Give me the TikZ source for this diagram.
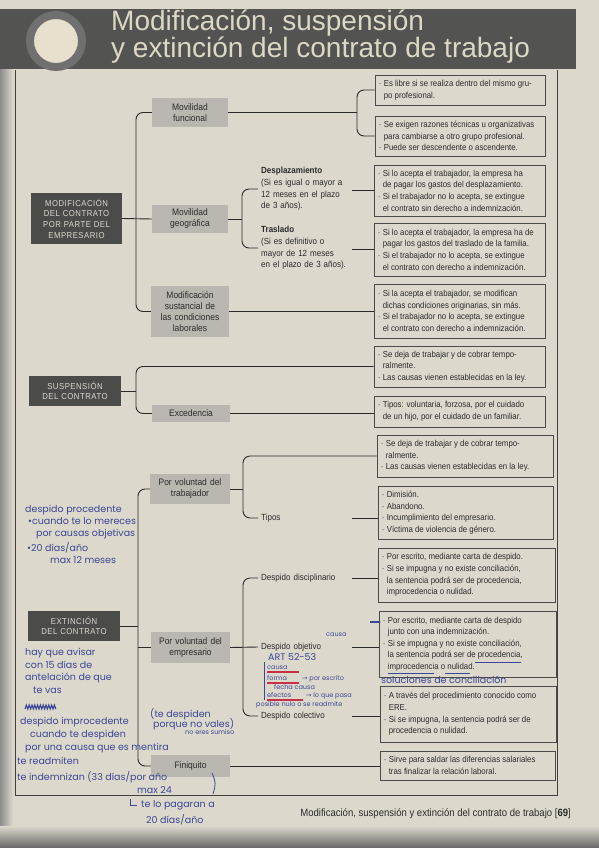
\documentclass[tikz,border=0pt]{standalone}
\usepackage{fontspec}
\setmainfont{Liberation Sans}[FakeStretch=0.9]
\newfontfamily\titlefont{Liberation Sans}
\newfontfamily\hand{Poppins}
\newfontfamily\sym{DejaVu Sans}
\usetikzlibrary{arrows.meta}
\definecolor{paper}{HTML}{DCD8CC}
\definecolor{band}{HTML}{535351}
\definecolor{ringcol}{HTML}{707070}
\definecolor{circfill}{HTML}{E6E0CC}
\definecolor{titlecol}{HTML}{DDD7C5}
\definecolor{ink}{HTML}{2B2B2B}
\definecolor{graybox}{HTML}{BAB7B0}
\definecolor{darkbox}{HTML}{4B4B49}
\definecolor{darktext}{HTML}{DCD8CE}
\definecolor{handblue}{HTML}{3A4796}
\definecolor{redmark}{HTML}{C83048}
\newcommand\bul{\makebox[5pt][l]{·}}
\newcommand\ind{\hspace*{5pt}}
\newcommand\harr{{\sym →}}
\newcommand\mkbox[7]{%
  \pgfmathsetmacro\bxw{#5-#3}\pgfmathsetmacro\bxh{#6-#4}%
  \pgfmathsetmacro\bxtw{#5-#3-8}%
  \pgfmathsetmacro\bxcx{(#3+#5)/2}\pgfmathsetmacro\bxcy{-(#4+#6)/2}%
  \node[#2, minimum width=\bxw pt, minimum height=\bxh pt, text width=\bxtw pt] (#1) at (\bxcx,\bxcy) {#7};}
\newcommand\mktbox[6]{%
  \pgfmathsetmacro\bxw{#4-#2}\pgfmathsetmacro\bxh{#5-#3}%
  \pgfmathsetmacro\bxcx{(#2+#4)/2}\pgfmathsetmacro\bxcy{-(#3+#5)/2}%
  \node[tbox, minimum width=\bxw pt, minimum height=\bxh pt] (#1) at (\bxcx,\bxcy) {};
  \node[ttext] (#1t) at ([xshift=4pt]#1.west) {#6};}
\tikzset{
  conn/.style={draw=ink, line width=0.9pt, rounded corners=7pt},
  tbox/.style={draw=ink!85, line width=0.8pt, rectangle, inner sep=0pt},
  ttext/.style={anchor=west, align=left, inner sep=0pt, font=\fontsize{8.7}{11.6}\selectfont, text=ink},
  gbox/.style={fill=graybox, rectangle, inner xsep=4pt, inner ysep=0pt, align=center,
    font=\fontsize{9.4}{11}\selectfont, text=ink},
  dbox/.style={fill=darkbox, rectangle, inner xsep=4pt, inner ysep=0pt, align=center,
    font=\addfontfeature{LetterSpace=6}\fontsize{8.6}{10.6}\selectfont, text=darktext},
  lbl/.style={anchor=west, inner xsep=3pt, inner ysep=0pt, text width=88pt, align=left,
    font=\fontsize{8.9}{11.6}\selectfont, text=ink},
  note/.style={text=handblue, font=\hand\fontsize{9.5}{10}\selectfont, anchor=base west, inner sep=0pt},
  smallnote/.style={note, font=\hand\fontsize{6.5}{7}\selectfont},
  handline/.style={draw=handblue, line width=0.8pt},
  redline/.style={draw=redmark, line width=2pt}
}
\begin{document}
\begin{tikzpicture}[x=1pt,y=1pt]
\useasboundingbox (0,0) rectangle (599,-848);
% paper and photo edges
\fill[paper] (0,0) rectangle (599,-848);
\shade[left color=black!45, right color=paper] (0,-60) rectangle (13,-848);
\shade[top color=paper, bottom color=black!60] (0,-826) rectangle (599,-848);
% header band
\fill[band] (0,-9) rectangle (576,-69);
\draw[ringcol, line width=8pt, fill=circfill] (56,-41) circle (26);
\node[anchor=base west, text=titlecol, font=\titlefont\fontsize{28}{28}\selectfont, inner sep=0pt] (t1) at (111,-31) {Modificación, suspensión};
\node[anchor=base west, text=titlecol, font=\titlefont\fontsize{28}{28}\selectfont, inner sep=0pt] (t2) at (111,-58) {y extinción del contrato de trabajo};
% frame
\draw[ink!90, line width=0.9pt] (15,-70) -- (15,-795) -- (557,-795) -- (557,-70);
% footer
\node[anchor=base east, font=\fontsize{10.6}{11}\selectfont, text=ink, inner sep=0pt] (foot) at (571,-816) {Modificación, suspensión y extinción del contrato de trabajo [\textbf{69}]};

% dark boxes
\mkbox{mod}{dbox}{31}{193}{122}{244}{MODIFICACIÓN\\DEL CONTRATO\\POR PARTE DEL\\EMPRESARIO}
\mkbox{sus}{dbox}{29}{376}{121}{406}{SUSPENSIÓN\\DEL CONTRATO}
\mkbox{ext}{dbox}{28}{611}{120}{641}{EXTINCIÓN\\DEL CONTRATO}
% gray boxes
\mkbox{mf}{gbox}{152}{98}{228}{127}{Movilidad\\funcional}
\mkbox{mg}{gbox}{152}{205}{228}{233}{Movilidad\\geográfica}
\mkbox{ms}{gbox}{151}{286}{229}{337}{Modificación\\sustancial de\\las condiciones\\laborales}
\mkbox{ex}{gbox}{152}{405}{230}{422}{Excedencia}
\mkbox{pvt}{gbox}{150}{474}{230}{504}{Por voluntad del\\trabajador}
\mkbox{pve}{gbox}{151}{632}{230}{663}{Por voluntad del\\empresario}
\mkbox{fin}{gbox}{151}{755}{230}{777}{Finiquito}
% labels
\node[lbl] (desp) at (258,-189) {\textbf{Desplazamiento}\\(Si es igual o mayor a\\12 meses en el plazo\\de 3 años).};
\node[lbl] (tras) at (258,-248) {\textbf{Traslado}\\(Si es definitivo o\\mayor de 12 meses\\en el plazo de 3 años).};
\node[lbl] (tipos) at (258,-518) {Tipos};
\node[lbl] (ddis) at (258,-578) {Despido disciplinario};
\node[lbl] (dobj) at (258,-647) {Despido objetivo};
\node[lbl] (dcol) at (258,-716) {Despido colectivo};
% text boxes
\mktbox{b1}{375}{75}{545}{105}{\bul Es libre si se realiza dentro del mismo gru-\\\ind po profesional.}
\mktbox{b2}{375}{116}{545}{156}{\bul Se exigen razones técnicas u organizativas\\\ind para cambiarse a otro grupo profesional.\\\bul Puede ser descendente o ascendente.}
\mktbox{b3}{374}{165}{545}{216}{\bul Si lo acepta el trabajador, la empresa ha\\\ind de pagar los gastos del desplazamiento.\\\bul Si el trabajador no lo acepta, se extingue\\\ind el contrato sin derecho a indemnización.}
\mktbox{b4}{374}{223}{545}{276}{\bul Si lo acepta el trabajador, la empresa ha de\\\ind pagar los gastos del traslado de la familia.\\\bul Si el trabajador no lo acepta, se extingue\\\ind el contrato con derecho a indemnización.}
\mktbox{b5}{374}{284}{545}{338}{\bul Si la acepta el trabajador, se modifican\\\ind dichas condiciones originarias, sin más.\\\bul Si el trabajador no lo acepta, se extingue\\\ind el contrato con derecho a indemnización.}
\mktbox{b6}{374}{346}{545}{387}{\bul Se deja de trabajar y de cobrar tempo-\\\ind ralmente.\\\bul Las causas vienen establecidas en la ley.}
\mktbox{b7}{374}{396}{545}{427}{\bul Tipos: voluntaria, forzosa, por el cuidado\\\ind de un hijo, por el cuidado de un familiar.}
\mktbox{b8}{377}{435}{553}{477}{\bul Se deja de trabajar y de cobrar tempo-\\\ind ralmente.\\\bul Las causas vienen establecidas en la ley.}
\mktbox{b9}{378}{486}{553}{539}{\bul Dimisión.\\\bul Abandono.\\\bul Incumplimiento del empresario.\\\bul Víctima de violencia de género.}
\mktbox{b10}{378}{548}{555}{602}{\bul Por escrito, mediante carta de despido.\\\bul Si se impugna y no existe conciliación,\\\ind la sentencia podrá ser de procedencia,\\\ind improcedencia o nulidad.}
\mktbox{b11}{379}{611}{556}{677}{\bul Por escrito, mediante carta de despido\\\ind junto con una indemnización.\\\bul Si se impugna y no existe conciliación,\\\ind la sentencia podrá ser de procedencia,\\\ind improcedencia o nulidad.}
\mktbox{b12}{380}{686}{556}{742}{\bul A través del procedimiento conocido como\\\ind ERE.\\\bul Si se impugna, la sentencia podrá ser de\\\ind procedencia o nulidad.}
\mktbox{b13}{380}{751}{555}{780}{\bul Sirve para saldar las diferencias salariales\\\ind tras finalizar la relación laboral.}

% junction coordinates
\coordinate (jm) at (136,-219);
\coordinate (jf) at (357,-112.5);
\coordinate (jg) at (242,-219);
\coordinate (js) at (136,-391);
\coordinate (jx) at (138,-626);
\coordinate (jt) at (243,-489);
\coordinate (je) at (243,-647.5);

% connectors: modificación
\draw[conn] (mod.east) -- (mg.west);
\draw[conn] (mf.west) -| (jm) |- (ms.west);
\draw[conn] (mf.east) -- (jf);
\draw[conn] (b1.west) -| (jf) |- (b2.west);
\draw[conn] (mg.east) -- (jg);
\draw[conn] (desp.west) -| (jg) |- (tras.west);
\draw[conn] (desp.east |- b3.west) -- (b3.west);
\draw[conn] (tras.east |- b4.west) -- (b4.west);
\draw[conn] (ms.east) -- (ms.east -| b5.west);
% suspensión
\draw[conn] (sus.east) -- (js);
\draw[conn] (b6.west) -| (js) |- (ex.west);
\draw[conn] (ex.east) -- (ex.east -| b7.west);
% extinción
\draw[conn] (ext.east) -- (jx);
\draw[conn] (pvt.west) -| (jx) |- (fin.west);
\draw[conn] (pve.west) -- (pve.west -| jx);
\draw[conn] (pvt.east) -- (jt);
\draw[conn] (b8.west) -| (jt) |- (tipos.west);
\draw[conn] (tipos.east) -- (tipos.east -| b9.west);
\draw[conn] (pve.east) -- (dobj.west);
\draw[conn] (ddis.west) -| (je) |- (dcol.west);
\draw[conn] (ddis.east) -- (ddis.east -| b10.west);
\draw[conn] (dobj.east) -- (dobj.east -| b11.west);
\draw[conn] (dcol.east) -- (dcol.east -| b12.west);
\draw[conn] (fin.east) -- (fin.east -| b13.west);

% handwritten notes, block A
\node[note] (ha1) at (25,-512) {despido procedente};
\node[note] (ha2) at (28,-524) {•cuando te lo mereces};
\node[note] (ha3) at (36,-536) {por causas objetivas};
\node[note] (ha4) at (27,-551) {•20 días/año};
\node[note] (ha5) at (50,-563) {max 12 meses};
% block B
\node[note] (hb1) at (25,-655) {hay que avisar};
\node[note] (hb2) at (25,-668) {con 15 días de};
\node[note] (hb3) at (25,-680) {antelación de que};
\node[note] (hb4) at (33,-693) {te vas};
\draw[handline, line width=1.1pt] (25,-709) \foreach \i in {1,...,11}{ -- ++(1.4,4) -- ++(1.4,-4)};
\node[note] (hb5) at (20,-724) {despido improcedente};
\node[note] (hb6) at (150,-717) {(te despiden};
\node[note] (hb7) at (153,-727) {porque no vales)};
\node[smallnote] (hb8) at (185,-734) {no eres sumiso};
\node[note] (hb9) at (30,-737) {cuando te despiden};
\node[note] (hb10) at (25,-750) {por una causa que es mentira};
\node[note] (hb11) at (17,-764) {te readmiten};
\node[note] (hb12) at (17,-780) {te indemnizan (33 días/por año};
\draw[handline] (212,-773) .. controls (216,-783) .. (213,-794);
\node[note] (hb13) at (137,-793) {max 24};
\draw[handline] (130,-799) -- (130,-805) -- (137,-805);
\node[note] (hb14) at (141,-807) {te lo pagaran a};
\node[note] (hb15) at (146,-823) {20 días/año};
% block C
\node[smallnote] (hc0) at (326,-636) {causa};
\node[note] (hc1) at (268,-660) {ART 52-53};
\draw[handline] (264,-662) -- (264,-700);
\node[smallnote] (hc2) at (267,-669) {causa};
\draw[redline] (267,-672) -- (299,-672);
\node[smallnote] (hc3) at (267,-680) {forma};
\draw[redline] (267,-683) -- (299,-683);
\node[smallnote] (hc3b) at (302,-680) {\harr\ por escrito};
\node[smallnote] (hc4) at (274,-689) {fecha causa};
\node[smallnote] (hc5) at (267,-697) {efectos};
\draw[redline] (267,-700) -- (303,-700);
\node[smallnote] (hc5b) at (306,-697) {\harr\ lo que pasa};
\node[smallnote] (hc6) at (256,-706) {posible  nulo o se readmite};
\node[note] (hc7) at (381,-683) {soluciones de conciliación};
\draw[handline, line width=1.2pt, -{Stealth[length=3pt]}] (370,-622) -- (381,-622);
% underlines in b11
\draw[handline] (475,-662) -- (521,-662);
\draw[handline] (388,-673) -- (434,-673);
\draw[handline] (445,-673) -- (470,-673);
\end{tikzpicture}
\end{document}
